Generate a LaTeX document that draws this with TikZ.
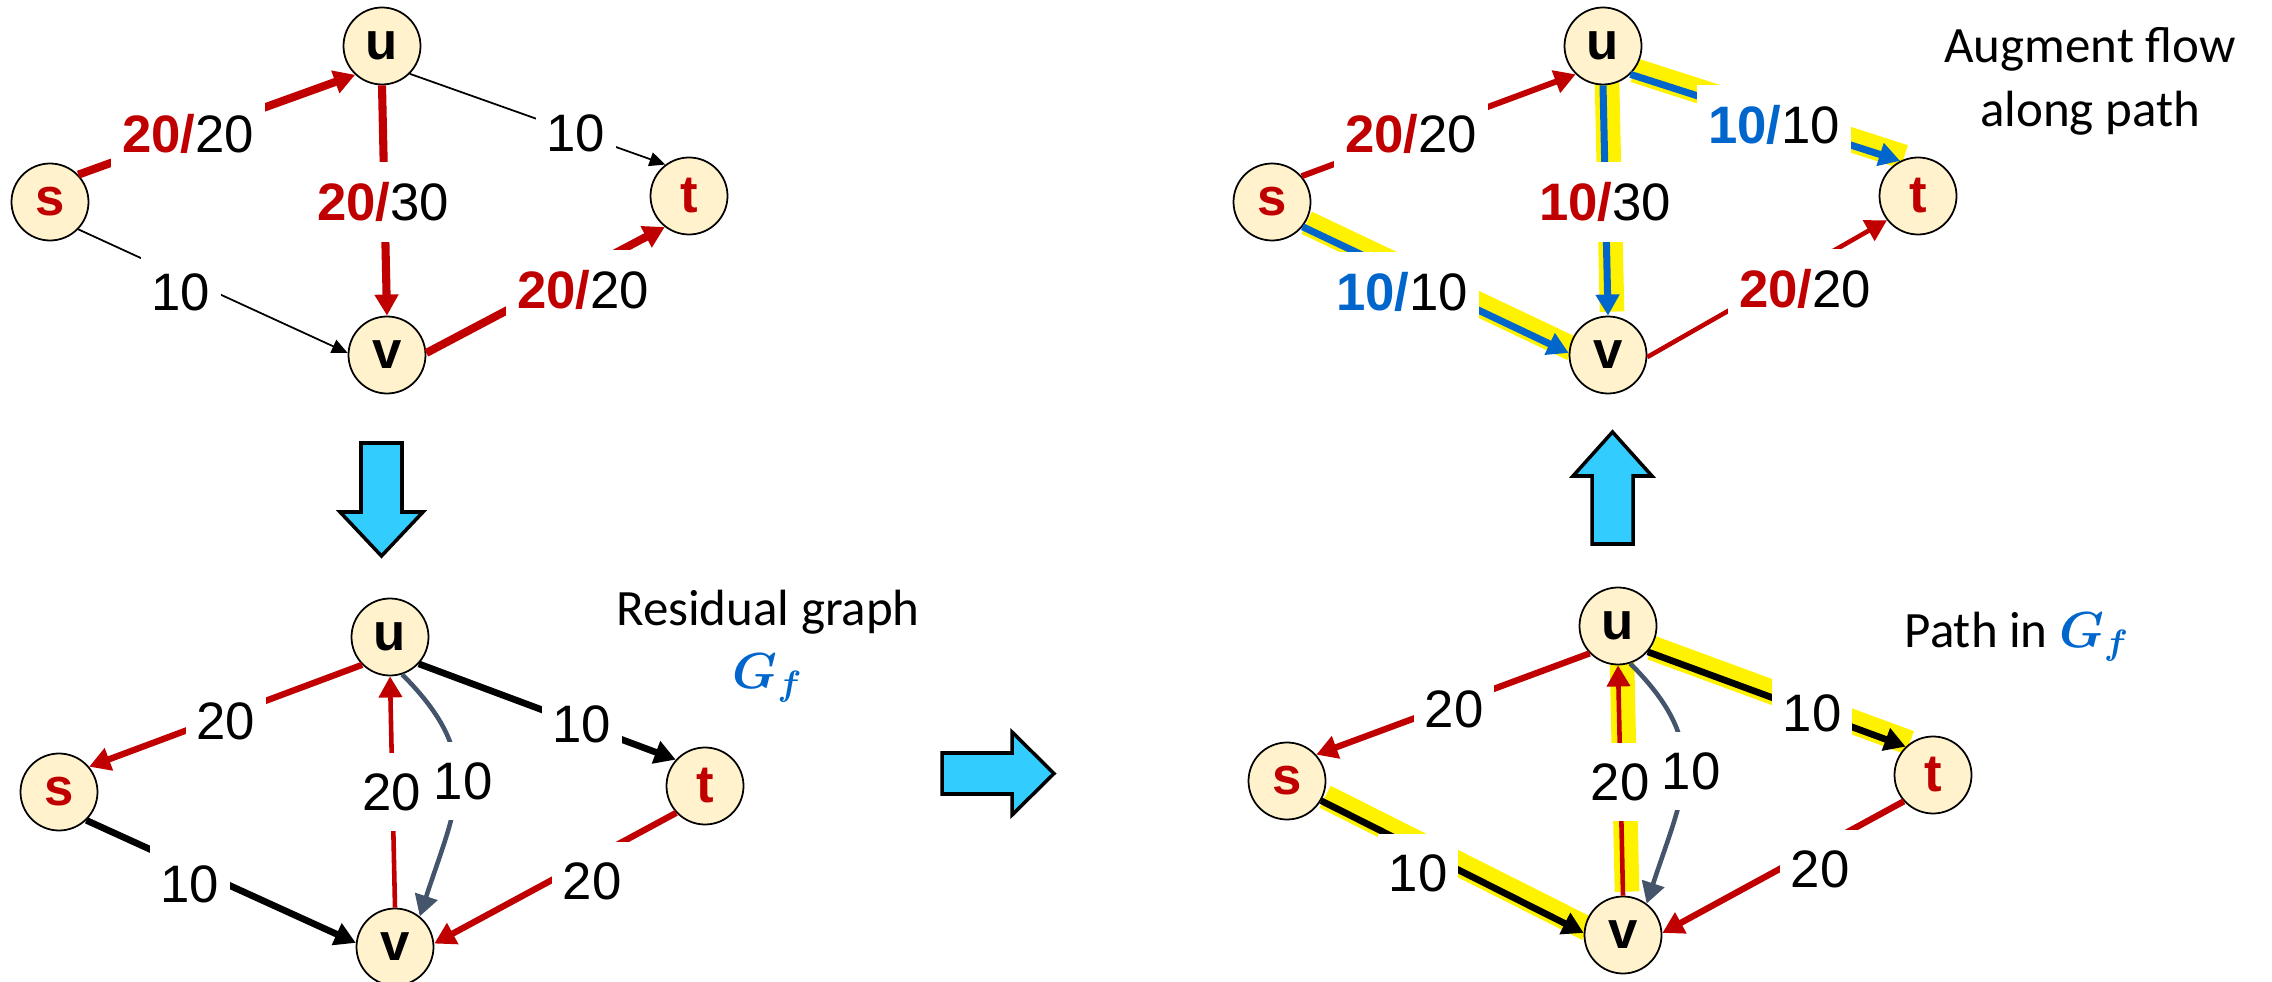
\documentclass[tikz,border=0pt]{standalone}
\usepackage{fontspec}
\usepackage{bm}
\setmainfont{Liberation Sans}
\newfontfamily\calfont{Carlito}
\usetikzlibrary{arrows.meta,backgrounds}

\definecolor{flowred}{HTML}{C00000}
\definecolor{flowblue}{HTML}{0066CC}
\definecolor{vfill}{HTML}{FFF2CC}
\definecolor{backgray}{HTML}{44546A}
\definecolor{arrowcyan}{HTML}{33CCFF}

% flow label: coloured bold flow, then capacity
\newcommand{\flowlab}[3]{\textcolor{#1}{\bfseries #2/}#3}

\begin{document}
\begin{tikzpicture}[line join=round, >={Triangle[length=6pt,width=6.5pt]},
    vert/.style={circle, draw, line width=0.5pt, fill=vfill, minimum size=0.77cm, inner sep=0pt, font=\bfseries\fontsize{15}{18}\selectfont},
    lab/.style={fill=white, inner xsep=0.11cm, inner ysep=0.2cm, font=\fontsize{15}{18}\selectfont},
    capt/.style={font=\calfont\fontsize{14.5}{18}\selectfont, inner sep=0pt, anchor=base},
    redflow/.style={draw=flowred, line width=2.3pt, ->},
    thinedge/.style={line width=0.5pt, -{Triangle[length=4.5pt,width=4pt]}},
    blueflow/.style={draw=flowblue, line width=2pt, ->},
    resblack/.style={line width=1.9pt, ->},
    resred/.style={draw=flowred, line width=1.8pt, ->},
    backedge/.style={draw=backgray, line width=1.3pt, ->},
    hl/.style={draw=yellow, line width=7pt, transform canvas={xshift=0.04cm, yshift=0.04cm}},
    bigarrow/.style={draw, line width=1pt, fill=arrowcyan, line join=miter}]
    \useasboundingbox (0,0) rectangle (22.72,9.81);

    % flow graph (top left)
    \node[vert, text=flowred] (s1) at (0.50,7.79) {s};
    \node[vert] (u1) at (3.82,9.35) {u};
    \node[vert] (v1) at (3.87,6.26) {v};
    \node[vert, text=flowred] (t1) at (6.89,7.85) {t};
    \draw[redflow] (s1.44) -- (u1.227);
    \draw[thinedge] (u1.-45) -- (t1.127);
    \draw[thinedge] (s1.-44) -- (v1.177);
    \draw[redflow] (u1.-90) -- (v1.90);
    \draw[redflow] (v1.3) -- (t1.232);
    \node[lab] (l1su) at (1.88,8.47) {\flowlab{flowred}{20}{20}};
    \node[lab] (l1ut) at (5.76,8.48) {10};
    \node[lab] (l1uv) at (3.83,7.79) {\flowlab{flowred}{20}{30}};
    \node[lab] (l1sv) at (1.81,6.89) {10};
    \node[lab] (l1vt) at (5.83,6.91) {\flowlab{flowred}{20}{20}};

    % down arrow
    \draw[bigarrow] (3.61,5.38) -- (4.02,5.38) -- (4.02,4.69) -- (4.23,4.69)
        -- (3.815,4.25) -- (3.40,4.69) -- (3.61,4.69) -- cycle;

    % residual graph (bottom left)
    \node[vert] (u3) at (3.90,3.44) {u};
    \node[vert, text=flowred] (s3) at (0.59,1.89) {s};
    \node[vert, text=flowred] (t3) at (7.05,1.95) {t};
    \node[vert] (v3) at (3.95,0.34) {v};
    \draw[resred] (u3.225) -- (s3.40);
    \draw[resblack] (u3.-43) -- (t3.138);
    \draw[resred, line width=1.3pt] (v3.90) -- (u3.-90);
    \draw[backedge] (u3.-72) to[out=-45, in=72, looseness=1.25] (v3.51);
    \draw[resblack] (s3.-46) -- (v3.174);
    \draw[resred] (t3.223) -- (v3.5);
    \node[lab] (l3us) at (2.26,2.60) {20};
    \node[lab] (l3ut) at (5.82,2.57) {10};
    \node[lab] (l3vu) at (3.92,1.89) {20};
    \node[lab] (l3uv) at (4.63,2.00) {10};
    \node[lab] (l3sv) at (1.90,0.97) {10};
    \node[lab] (l3tv) at (5.92,1.00) {20};
    \node[capt] (rescap) at (7.68,3.56) {Residual graph};
    \node[capt] (resgf) at (7.68,2.93) {\textcolor{flowblue}{$\bm{G_f}$}};

    % right arrow
    \draw[bigarrow] (9.42,2.28) -- (10.12,2.28) -- (10.12,2.49) -- (10.54,2.075)
        -- (10.12,1.66) -- (10.12,1.87) -- (9.42,1.87) -- cycle;

    % path in residual graph (bottom right)
    \node[vert] (u4) at (16.18,3.55) {u};
    \node[vert, text=flowred] (s4) at (12.87,2.00) {s};
    \node[vert, text=flowred] (t4) at (19.33,2.06) {t};
    \node[vert] (v4) at (16.23,0.46) {v};
    \begin{scope}[on background layer]
        \draw[hl] (s4.-30) -- (v4.177);
        \draw[hl] (v4.90) -- (u4.-90);
        \draw[hl] (u4.-41) -- (t4.134);
    \end{scope}
    \draw[resred] (u4.224) -- (s4.42);
    \draw[resblack] (u4.-41) -- (t4.134);
    \draw[resred, line width=1.3pt] (v4.90) -- (u4.-90);
    \draw[backedge] (u4.-72) to[out=-45, in=72, looseness=1.25] (v4.53);
    \draw[resblack] (s4.-30) -- (v4.177);
    \draw[resred] (t4.222) -- (v4.3);
    \node[lab] (l4us) at (14.54,2.72) {20};
    \node[lab] (l4ut) at (18.12,2.68) {10};
    \node[lab] (l4vu) at (16.20,1.99) {20};
    \node[lab] (l4uv) at (16.91,2.10) {10};
    \node[lab] (l4sv) at (14.18,1.08) {10};
    \node[lab] (l4tv) at (18.20,1.12) {20};
    \node[capt, anchor=base west] (pathcap) at (19.04,3.34) {Path in \textcolor{flowblue}{$\bm{G_f}$}};

    % up arrow
    \draw[bigarrow] (15.92,4.37) -- (16.33,4.37) -- (16.33,5.05) -- (16.52,5.05)
        -- (16.125,5.49) -- (15.73,5.05) -- (15.92,5.05) -- cycle;

    % augmented flow (top right)
    \node[vert, text=flowred] (s2) at (12.72,7.79) {s};
    \node[vert] (u2) at (16.03,9.35) {u};
    \node[vert] (v2) at (16.08,6.26) {v};
    \node[vert, text=flowred] (t2) at (19.18,7.85) {t};
    \begin{scope}[on background layer]
        \draw[hl] (s2.-39) -- (v2.177);
        \draw[hl] (u2.-90) -- (v2.90);
        \draw[hl] (u2.-46) -- (t2.117);
    \end{scope}
    \draw[redflow, line width=1.7pt] (s2.41) -- (u2.226);
    \draw[blueflow] (u2.-46) -- (t2.117);
    \draw[blueflow] (u2.-90) -- (v2.90);
    \draw[blueflow] (s2.-39) -- (v2.177);
    \draw[redflow, line width=1.3pt] (v2.-3) -- (t2.218);
    \node[lab] (l2su) at (14.11,8.47) {\flowlab{flowred}{20}{20}};
    \node[lab] (l2ut) at (17.74,8.56) {\flowlab{flowblue}{10}{10}};
    \node[lab] (l2uv) at (16.05,7.79) {\flowlab{flowred}{10}{30}};
    \node[lab] (l2sv) at (14.02,6.89) {\flowlab{flowblue}{10}{10}};
    \node[lab] (l2vt) at (18.05,6.92) {\flowlab{flowred}{20}{20}};
    \node[capt] (augcap1) at (20.90,9.18) {Augment flow};
    \node[capt] (augcap2) at (20.90,8.54) {along path};
\end{tikzpicture}
\end{document}
